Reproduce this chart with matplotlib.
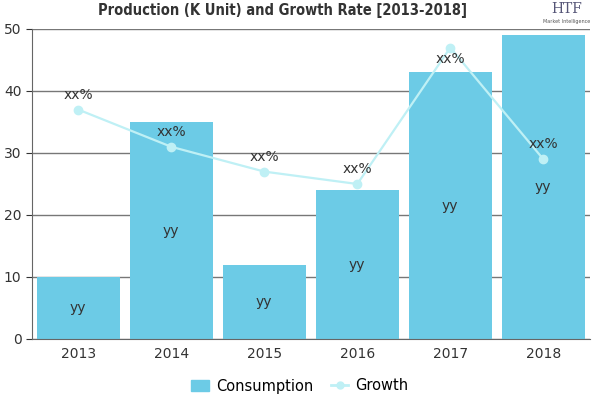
import matplotlib
matplotlib.use("Agg")
import matplotlib.pyplot as plt
from matplotlib.lines import Line2D
from matplotlib.patches import Patch

years = ["2013", "2014", "2015", "2016", "2017", "2018"]
consumption = [10, 35, 12, 24, 43, 49]
growth = [37, 31, 27, 25, 47, 29]
bar_labels = ["yy"] * 6
growth_labels = ["xx%"] * 6

bar_color = "#6ccbe6"
line_color = "#bff0f5"

fig = plt.figure(figsize=(6, 4), dpi=100)
ax = fig.add_axes([0.053, 0.1525, 0.93, 0.775])
x = list(range(len(years)))
ax.bar(x, consumption, width=0.89, color=bar_color, zorder=2)
ax.plot(x, growth, color=line_color, lw=1.6, marker="o", ms=6, zorder=3)
for xi, v, lab in zip(x, consumption, bar_labels):
    ax.text(xi, v / 2, lab, ha="center", va="center", fontsize=10, color="#333333", zorder=4)
ymax = 50
for xi, v, lab in zip(x, growth, growth_labels):
    yl = v + 2.4 if v + 3.5 < ymax else v - 1.9
    ax.text(xi, yl, lab, ha="center", va="center", fontsize=10, color="#333333", zorder=4)

ax.set_xlim(-0.5, 5.5)
ax.set_ylim(0, ymax)
ax.set_yticks([0, 10, 20, 30, 40, 50])
ax.set_xticks(x)
ax.set_xticklabels(years)
ax.yaxis.grid(True, color="#777777", lw=1, zorder=0)
ax.set_axisbelow(True)
for s in ["top", "right"]:
    ax.spines[s].set_visible(False)
for s in ["left", "bottom"]:
    ax.spines[s].set_color("#666666")
ax.tick_params(axis="both", labelsize=10, colors="#333333", length=4)
ax.tick_params(axis="x", length=0, pad=6)

fig.text(0.47, 0.975, "Production (K Unit) and Growth Rate [2013-2018]", ha="center", va="center",
         fontsize=10.5, fontweight="bold", fontstretch="condensed", family="DejaVu Sans", color="#333333")
fig.text(0.945, 0.978, "HTF", ha="center", va="center", fontsize=10, color="#555577", family="DejaVu Serif")
fig.text(0.945, 0.945, "Market Intelligence", ha="center", va="center", fontsize=3.5, color="#555555")

handles = [Patch(color=bar_color, label="Consumption"),
           Line2D([0], [0], color=line_color, lw=2, marker="o", ms=5, label="Growth")]
fig.legend(handles=handles, loc="center", bbox_to_anchor=(0.5, 0.035), ncol=2, frameon=False,
           fontsize=10.5, handlelength=1.2, columnspacing=1.2, handletextpad=0.5)
fig.savefig("out.png", dpi=100)
